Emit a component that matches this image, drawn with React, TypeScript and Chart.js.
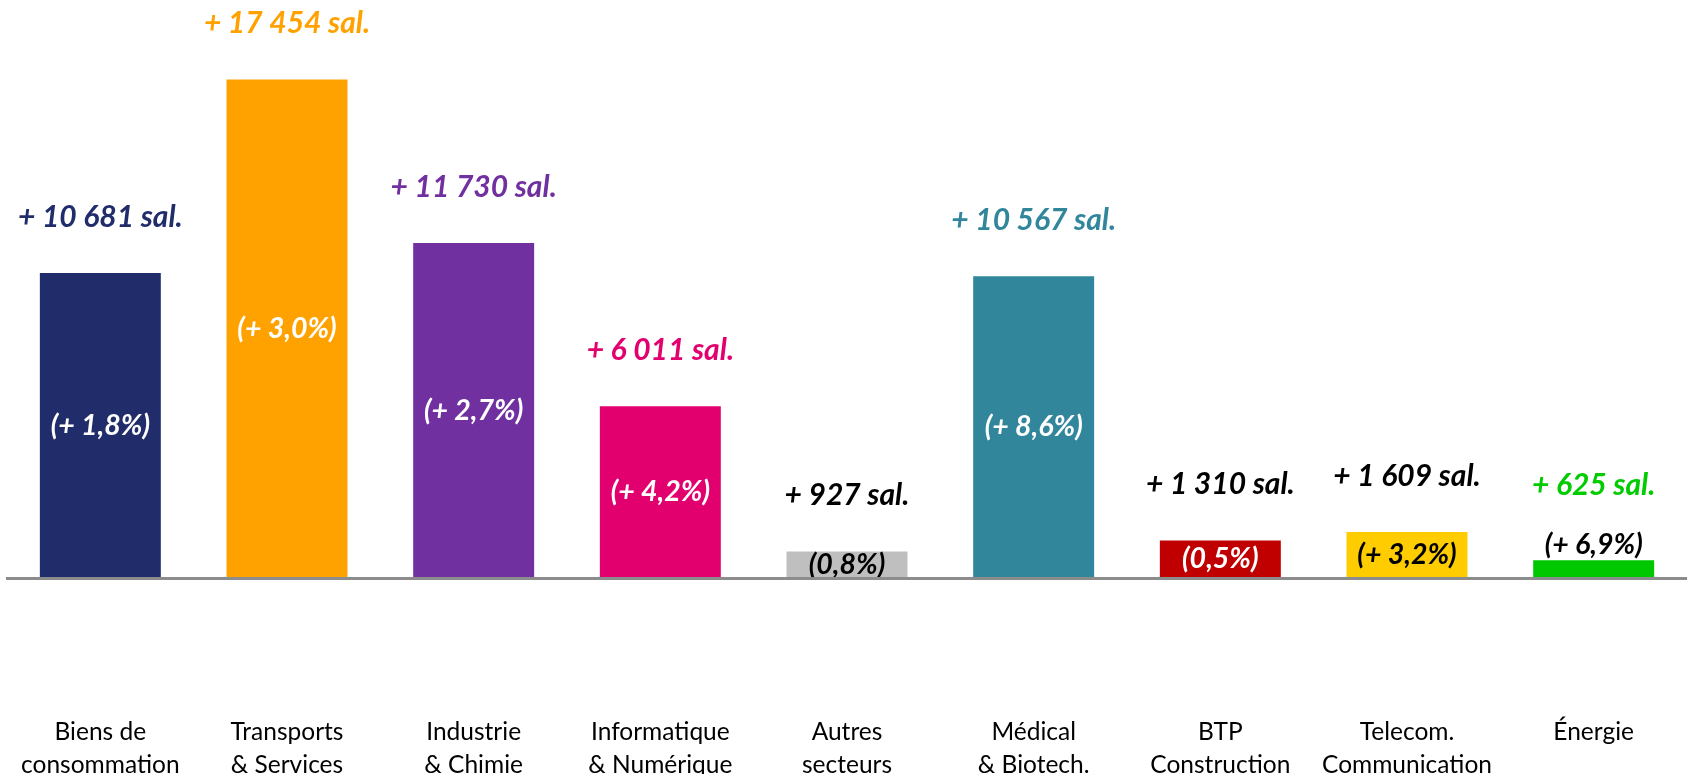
import React, { useEffect, useRef } from 'react';
import { Chart, registerables } from 'chart.js';

Chart.register(...registerables);

const categories: string[][] = [
  ['Biens de', 'consommation'],
  ['Transports', '& Services'],
  ['Industrie', '& Chimie'],
  ['Informatique', '& Numérique'],
  ['Autres', 'secteurs'],
  ['Médical', '& Biotech.'],
  ['BTP', 'Construction'],
  ['Telecom.', 'Communication'],
  ['Énergie'],
];

const salaries = [10681, 17454, 11730, 6011, 927, 10567, 1310, 1609, 625];

const pctLabels = ['(+ 1,8%)', '(+ 3,0%)', '(+ 2,7%)', '(+ 4,2%)', '(0,8%)', '(+ 8,6%)', '(0,5%)', '(+ 3,2%)', '(+ 6,9%)'];

const pctInside = [true, true, true, true, true, true, true, true, false];

const barColors = ['#212D6B', '#FFA200', '#7030A0', '#E2006E', '#BFBFBF', '#31869C', '#C00000', '#FFCC00', '#00C800'];

const valueColors = ['#212D6B', '#FFA200', '#7030A0', '#E2006E', '#000000', '#31869C', '#000000', '#000000', '#00CC00'];

const pctColors = ['#FFFFFF', '#FFFFFF', '#FFFFFF', '#FFFFFF', '#000000', '#FFFFFF', '#FFFFFF', '#000000', '#000000'];

const formatSal = (v: number) => '+ ' + String(v).replace(/\B(?=(\d{3})+(?!\d))/g, ' ') + ' sal.';

const labelPlugin = {
  id: 'barLabels',
  afterDatasetsDraw(chart: any) {
    const ctx = chart.ctx as CanvasRenderingContext2D;
    const meta = chart.getDatasetMeta(0);
    ctx.save();
    ctx.textAlign = 'center';
    ctx.textBaseline = 'middle';
    meta.data.forEach((bar: any, i: number) => {
      const { x, y, base } = bar.getProps(['x', 'y', 'base'], true);
      let pctY: number;
      let valY: number;
      if (pctInside[i]) {
        pctY = (y + base) / 2;
        valY = y - 56;
      } else {
        pctY = y - 15;
        valY = y - 75;
      }
      ctx.font = 'italic bold 28.5px Lato';
      ctx.fillStyle = pctColors[i];
      ctx.fillText(pctLabels[i], x, pctY);
      ctx.font = 'italic bold 30px Lato';
      ctx.fillStyle = valueColors[i];
      ctx.fillText(formatSal(salaries[i]), x, valY);
    });
    ctx.restore();
  },
};

export default function App() {
  const canvasRef = useRef<HTMLCanvasElement | null>(null);

  useEffect(() => {
    if (!canvasRef.current) return;
    const chart = new Chart(canvasRef.current, {
      type: 'bar',
      data: {
        labels: categories,
        datasets: [
          {
            data: salaries,
            backgroundColor: barColors,
            borderWidth: 0,
            categoryPercentage: 1,
            barPercentage: 0.648,
          },
        ],
      },
      options: {
        responsive: false,
        animation: false,
        layout: { padding: { left: 7, right: -2, top: 0, bottom: 0 } },
        plugins: {
          legend: { display: false },
          tooltip: { enabled: false },
        },
        scales: {
          x: {
            grid: { display: false, drawTicks: false },
            border: { display: true, color: '#8C8C8C', width: 3, z: 1 },
            ticks: {
              padding: 138,
              color: '#000000',
              autoSkip: false,
              maxRotation: 0,
              minRotation: 0,
              font: { family: 'Lato', size: 24.5, lineHeight: 1.33 },
            },
            afterFit: (scale: any) => {
              scale.height = 196;
              scale.paddingLeft = 0;
              scale.paddingRight = 0;
            },
          },
          y: {
            display: false,
            min: 0,
            max: 20240,
          },
        },
      },
      plugins: [labelPlugin],
    });
    return () => chart.destroy();
  }, []);

  return (
    <canvas
      ref={canvasRef}
      width={1687}
      height={774}
      style={{ position: 'absolute', left: 0, top: 0, width: 1687, height: 774, display: 'block' }}
    />
  );
}
